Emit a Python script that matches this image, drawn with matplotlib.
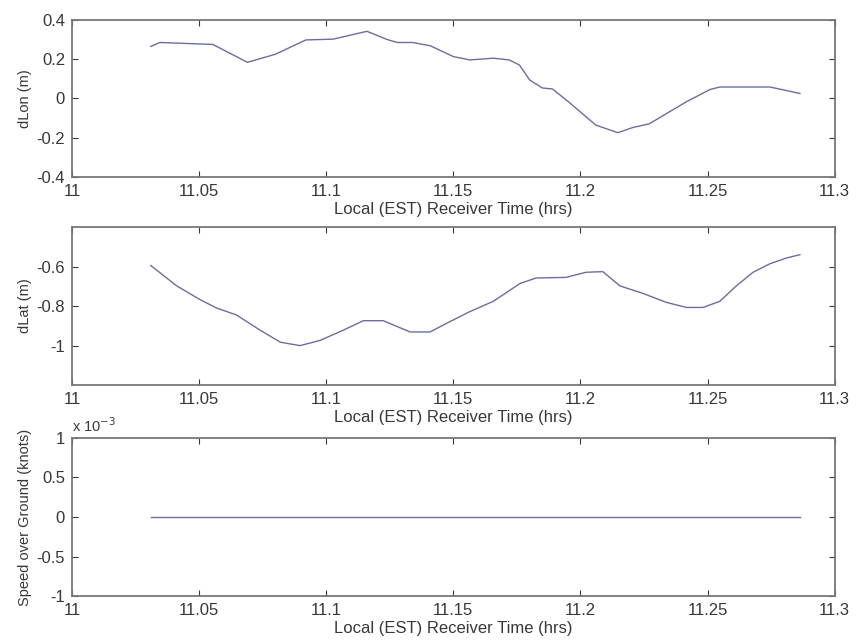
import numpy as np
import matplotlib
matplotlib.use("Agg")
import matplotlib.pyplot as plt
from matplotlib.ticker import FuncFormatter

plt.rcParams.update({
    "font.family": "Liberation Sans",
    "font.size": 12,
    "text.color": "#383838",
    "axes.labelcolor": "#383838",
    "xtick.color": "#383838",
    "ytick.color": "#383838",
})

# -------------------- data --------------------
t_lon = [11.031, 11.0346, 11.045, 11.0554, 11.069, 11.080, 11.092, 11.1027, 11.116,
         11.124, 11.128, 11.134, 11.141, 11.150, 11.1565, 11.1657, 11.172, 11.176,
         11.180, 11.185, 11.189, 11.1958, 11.206, 11.2147, 11.2207, 11.227, 11.2417,
         11.2509, 11.2548, 11.2745, 11.281, 11.2863]
dlon = [0.265, 0.285, 0.28, 0.275, 0.184, 0.225, 0.298, 0.302, 0.342,
        0.300, 0.285, 0.285, 0.268, 0.213, 0.196, 0.205, 0.196, 0.170,
        0.094, 0.053, 0.048, -0.023, -0.136, -0.175, -0.148, -0.130, -0.017,
        0.045, 0.058, 0.058, 0.040, 0.025]

t_lat = [11.031, 11.0412, 11.0503, 11.0569, 11.0647, 11.074, 11.082, 11.0897,
         11.0975, 11.1067, 11.1146, 11.1224, 11.133, 11.1408, 11.1486, 11.1565,
         11.1657, 11.1762, 11.1825, 11.1943, 11.2022, 11.2088, 11.2155, 11.2246,
         11.2337, 11.2417, 11.2482, 11.2548, 11.2613, 11.2679, 11.2745, 11.281, 11.2863]
dlat = [-0.595, -0.698, -0.767, -0.810, -0.845, -0.922, -0.983, -1.000,
        -0.974, -0.922, -0.874, -0.874, -0.931, -0.931, -0.879, -0.828,
        -0.776, -0.686, -0.658, -0.655, -0.629, -0.626, -0.698, -0.736,
        -0.781, -0.807, -0.807, -0.776, -0.698, -0.629, -0.586, -0.557, -0.540]

t_sog = [11.031, 11.2863]
sog = [0.0, 0.0]

xticks = [11, 11.05, 11.1, 11.15, 11.2, 11.25, 11.3]
xlabel = "Local (EST) Receiver Time (hrs)"
line_color = "#6c6ca0"
spine_color = "#777777"

# -------------------- layout --------------------
fig = plt.figure(figsize=(8.57, 6.43), dpi=100)
left, width = 0.084, 0.890
ax1 = fig.add_axes([left, 0.725, width, 0.244])
ax2 = fig.add_axes([left, 0.401, width, 0.246])
ax3 = fig.add_axes([left, 0.073, width, 0.246])


def style(ax):
    ax.set_xlim(11, 11.3)
    ax.set_xticks(xticks)
    ax.set_xticklabels([f"{v:g}" for v in xticks])
    ax.tick_params(direction="in", top=True, right=True, length=4, width=0.8, pad=5)
    for s in ax.spines.values():
        s.set_color(spine_color)
        s.set_linewidth(1.3)
    ax.set_xlabel(xlabel, labelpad=2)


ax1.plot(t_lon, dlon, color=line_color, lw=1.0)
ax1.set_ylim(-0.4, 0.4)
ax1.set_yticks([-0.4, -0.2, 0, 0.2, 0.4])
ax1.yaxis.set_major_formatter(FuncFormatter(lambda v, p: f"{v:g}"))
ax1.set_ylabel("dLon (m)", fontsize=10.5, labelpad=3)
style(ax1)

ax2.plot(t_lat, dlat, color=line_color, lw=1.0)
ax2.set_ylim(-1.2, -0.4)
ax2.set_yticks([-1, -0.8, -0.6])
ax2.yaxis.set_major_formatter(FuncFormatter(lambda v, p: f"{v:g}"))
ax2.set_ylabel("dLat (m)", fontsize=10.5, labelpad=3)
style(ax2)

ax3.plot(t_sog, sog, color=line_color, lw=1.0)
ax3.set_ylim(-1e-3, 1e-3)
ax3.set_yticks([-1e-3, -0.5e-3, 0, 0.5e-3, 1e-3])
ax3.yaxis.set_major_formatter(FuncFormatter(lambda v, p: f"{v * 1e3:g}"))
ax3.set_ylabel("Speed over Ground (knots)", fontsize=10.5, labelpad=3)
ax3.text(0.0, 1.02, r"x 10$^{-3}$", transform=ax3.transAxes, fontsize=10.5,
         ha="left", va="bottom")
style(ax3)

fig.savefig("out.png", dpi=100)
